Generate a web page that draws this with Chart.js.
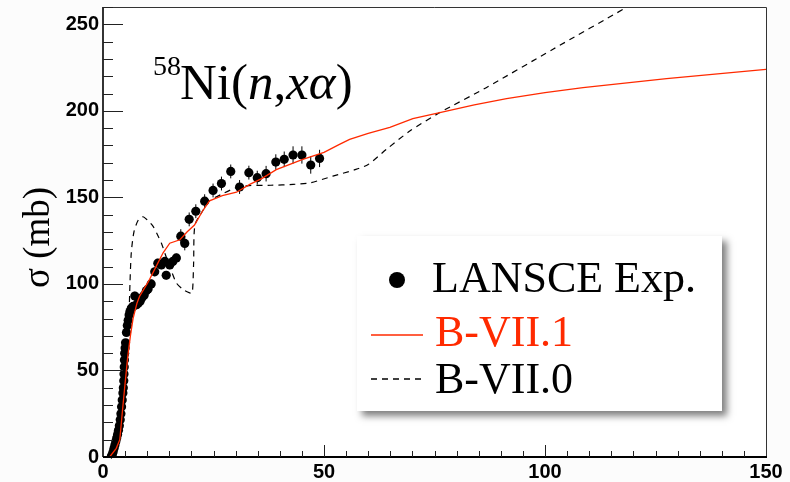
<!DOCTYPE html>
<html><head><meta charset="utf-8">
<script src="https://cdn.jsdelivr.net/npm/chart.js@4/dist/chart.umd.min.js"></script>
<style>html,body{margin:0;padding:0;background:#fcfcfc;}#wrap{width:790px;height:482px;position:relative}</style>
</head><body><div id="wrap"><canvas id="c" width="790" height="482"></canvas></div>
<script>
// LANSCE experimental points (incident neutron energy MeV, cross section mb, error mb)
const expEnergy = [1.9,2.1,2.3,2.5,2.7,2.9,3.1,3.3,3.5,3.7,3.9,4.05,4.2,4.35,4.5,4.6,4.7,4.75,4.8,4.85,4.9,5.0,5.1,5.3,5.5,5.7,5.9,6.1,6.4,6.8,7.2,7.6,8.0,8.4,8.8,9.3,9.8,10.2,10.9,11.7,12.4,13.2,14.0,14.3,15.1,15.8,16.6,17.6,18.5,19.5,21.0,23.0,24.9,26.8,28.9,30.9,33.0,34.9,36.9,39.1,41.0,43.0,45.0,47.0,49.0];
const expXS = [0.5,1.5,3,5,7,9,11,13,15.5,18,21.5,25,29,33,37,40,44,48,52,56,60,63,66,72,76,79,82,84,86,87,93,88,89,90,92,93.5,96,97,100,107,112,111,113,105,111,113,115,127.6,123.4,137.3,142,147.8,154,158,165,156,164.3,161.4,163.7,170.4,172,174.5,174.5,168.7,172.5];
const expErr = [1.5,1.5,1.5,1.5,1.5,1.5,1.5,1.5,1.5,1.5,1.5,1.5,1.5,1.5,1.5,1.5,1.5,1.5,1.5,1.5,1.5,1.5,1.5,1.5,1.5,1.5,1.5,1.5,1.5,1.5,2.5,2.5,2.5,2.5,2.5,2.5,2.5,2.5,2.5,2.5,2.5,2.5,2.5,2.5,2.5,2.5,2.5,4,4,4,4,4,4,4,4,4,4,4,4.5,4.5,4.5,5,5,5,5];
// ENDF/B-VII.1 evaluation
const b71Energy = [0,1.5,3.0,3.8,4.3,4.9,5.6,6.2,6.8,7.7,8.3,10.2,12.0,13.6,15.1,17.4,19.0,20.7,22.5,24.1,27,30.2,33.2,36,39.2,45.2,50,53.5,55.8,60,64.9,70.1,76.2,84,91.3,100,108.6,127.5,150];
const b71XS = [0,0,5,10,24,40,58,70,80,89,93,101,110,118,123.5,125.5,130,134,142,148,151,153,157.5,161,166,172,176,180.6,183.5,187,190.5,195.5,199,203.5,207,210.5,213.4,218.6,224];
// ENDF/B-VII.0 evaluation
const b70Energy = [0,1.5,3.0,3.8,4.3,4.9,5.6,5.9,6.1,6.4,7.0,8.0,9.05,10,11.3,12.3,13.2,14.1,15.1,16.6,18,19.6,20.2,20.5,20.8,22.5,24.1,27,30,33,38,43,47,52,57,60,64.1,69.4,76.2,86.7,101.8,118.4,150];
const b70XS = [0,0,5,10,24,40,58,82,100,118,130,137,138.8,137,133.4,128.5,123.7,117,110,100.6,97,94.8,95,112,134,142,148,152,155.5,156.8,157,157.5,158.5,162.3,166,169,177.7,188.3,199,213.4,235.6,259.7,305];
const seriesNames = ['LANSCE Exp.','B-VII.1','B-VII.0'];
const xTickValues = [0,50,100,150];
const yTickValues = [0,50,100,150,200,250];

const RED = '#ff2a00';

const deco = {
  id:'deco',
  beforeDraw(chart){
    const ctx = chart.ctx;
    ctx.save();
    ctx.fillStyle = '#fcfcfc';
    ctx.fillRect(0,0,chart.width,chart.height);
    ctx.fillStyle = '#ffffff';
    ctx.fillRect(chart.chartArea.left+1, chart.chartArea.top+1, chart.chartArea.width-1, chart.chartArea.height-1);
    ctx.restore();
  },
  beforeDatasetsDraw(chart){
    const ctx = chart.ctx, xs = chart.scales.x, ys = chart.scales.y;
    ctx.save();
    ctx.strokeStyle = '#000'; ctx.lineWidth = 1;
    ctx.beginPath();
    expEnergy.forEach((e,i)=>{
      const px = xs.getPixelForValue(e);
      ctx.moveTo(px, ys.getPixelForValue(expXS[i]-expErr[i]));
      ctx.lineTo(px, ys.getPixelForValue(expXS[i]+expErr[i]));
    });
    ctx.stroke();
    ctx.restore();
  },
  afterDatasetsDraw(chart){
    const ctx = chart.ctx, xs = chart.scales.x, ys = chart.scales.y, a = chart.chartArea;
    ctx.save();
    // frame
    ctx.strokeStyle = '#333'; ctx.lineWidth = 1;
    ctx.beginPath();
    ctx.moveTo(a.left, a.top+0.5); ctx.lineTo(a.right+0.5, a.top+0.5); ctx.lineTo(a.right+0.5, a.bottom);
    ctx.stroke();
    ctx.strokeStyle = '#000'; ctx.lineWidth = 1.6;
    ctx.beginPath(); ctx.moveTo(a.left, a.top); ctx.lineTo(a.left, a.bottom); ctx.stroke();
    ctx.lineWidth = 2;
    ctx.beginPath(); ctx.moveTo(a.left, a.bottom); ctx.lineTo(a.right+1, a.bottom); ctx.stroke();
    // inward ticks
    ctx.strokeStyle = '#222'; ctx.lineWidth = 1;
    ctx.beginPath();
    for (let v = 10; v <= ys.max; v += 10) {
      const py = Math.round(ys.getPixelForValue(v)) + 0.5;
      const len = (v % 50 === 0) ? 20 : 10;
      ctx.moveTo(a.left, py); ctx.lineTo(a.left + len, py);
    }
    for (let v = 5; v < xs.max; v += 5) {
      const px = Math.round(xs.getPixelForValue(v)) + 0.5;
      const len = (v % 50 === 0) ? 12 : 6;
      ctx.moveTo(px, a.bottom); ctx.lineTo(px, a.bottom - len);
    }
    ctx.stroke();
    ctx.restore();
  },
  afterDraw(chart){
    const ctx = chart.ctx;
    ctx.save();
    // title box and title
    ctx.fillStyle = '#ffffff';
    ctx.fillRect(134, 30, 243, 77);
    ctx.fillStyle = '#000';
    ctx.textBaseline = 'alphabetic'; ctx.textAlign = 'left';
    let x = 153;
    ctx.font = '28px "Liberation Serif"';
    ctx.fillText('58', x, 75); x += ctx.measureText('58').width - 1;
    const parts = [['Ni(', ''], ['n', 'italic '], [',', ''], ['x\u03b1', 'italic '], [')', '']];
    parts.forEach(([t, st]) => {
      ctx.font = st + '51px "Liberation Serif"';
      ctx.fillText(t, x, 99); x += ctx.measureText(t).width;
    });
    // y axis title
    ctx.save();
    ctx.translate(49, 237.5); ctx.rotate(-Math.PI/2);
    ctx.font = '37px "Liberation Serif"'; ctx.textAlign = 'center';
    ctx.fillText('\u03c3 (mb)', 0, 0);
    ctx.restore();
    // legend box with shadow
    ctx.save();
    ctx.shadowColor = 'rgba(0,0,0,0.5)'; ctx.shadowBlur = 7; ctx.shadowOffsetX = 5; ctx.shadowOffsetY = 5;
    ctx.fillStyle = '#ffffff';
    ctx.fillRect(357, 236, 365, 175);
    ctx.restore();
    ctx.font = '44px "Liberation Serif"';
    ctx.fillStyle = '#000';
    ctx.beginPath(); ctx.arc(397, 280, 8, 0, Math.PI*2); ctx.fill();
    ctx.fillText(seriesNames[0], 432, 292);
    ctx.strokeStyle = RED; ctx.lineWidth = 1.3;
    ctx.beginPath(); ctx.moveTo(371, 335); ctx.lineTo(423, 335); ctx.stroke();
    ctx.fillStyle = RED; ctx.fillText(seriesNames[1], 435, 346);
    ctx.strokeStyle = '#000'; ctx.lineWidth = 1.3; ctx.setLineDash([6,5]);
    ctx.beginPath(); ctx.moveTo(371, 379); ctx.lineTo(423, 379); ctx.stroke();
    ctx.setLineDash([]);
    ctx.fillStyle = '#000'; ctx.fillText(seriesNames[2], 435, 393);
    ctx.restore();
  }
};

const tickFont = {family:'Liberation Sans', weight:'bold', size:20};
new Chart(document.getElementById('c'), {
  type:'scatter',
  data:{datasets:[
    {label:seriesNames[0], data:expEnergy.map((e,i)=>({x:e,y:expXS[i]})), showLine:false,
     pointRadius:4.6, pointHoverRadius:4.6, pointBackgroundColor:'#000', pointBorderColor:'#000', pointBorderWidth:0, order:3},
    {label:seriesNames[1], data:b71Energy.map((e,i)=>({x:e,y:b71XS[i]})), showLine:true,
     borderColor:RED, borderWidth:1.3, pointRadius:0, tension:0, fill:false, order:1},
    {label:seriesNames[2], data:b70Energy.map((e,i)=>({x:e,y:b70XS[i]})), showLine:true,
     borderColor:'#000', borderWidth:1.2, borderDash:[6,5], pointRadius:0, tension:0.25, fill:false, order:2}
  ]},
  options:{
    responsive:false, animation:false, devicePixelRatio:1,
    layout:{padding:{left:0,right:24,top:7,bottom:0}},
    plugins:{legend:{display:false}, tooltip:{enabled:false}},
    scales:{
      x:{type:'linear', min:0, max:150,
         afterFit(s){ s.height = 25; s.paddingLeft = 0; s.paddingRight = 0; },
         afterBuildTicks(s){ s.ticks = xTickValues.map(v=>({value:v})); },
         grid:{display:false, drawTicks:false}, border:{display:false},
         ticks:{font:tickFont, color:'#000', padding:3, maxRotation:0, autoSkip:false}},
      y:{type:'linear', min:0, max:260,
         afterFit(s){ s.width = 103; s.paddingTop = 0; s.paddingBottom = 0; },
         afterBuildTicks(s){ s.ticks = yTickValues.map(v=>({value:v})); },
         grid:{display:false, drawTicks:false}, border:{display:false},
         ticks:{font:tickFont, color:'#000', padding:4, autoSkip:false}}
    }
  },
  plugins:[deco]
});
</script></body></html>
